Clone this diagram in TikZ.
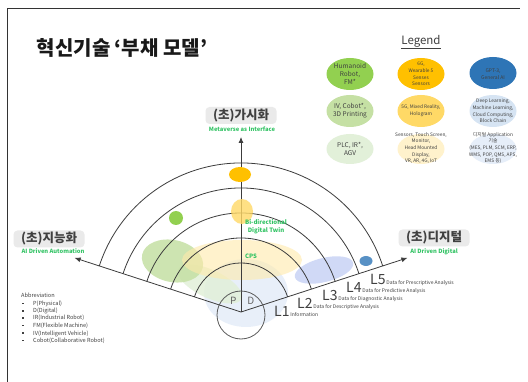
\documentclass[tikz,border=0pt]{standalone}
\usepackage{fontspec}
\setmainfont{Noto Sans CJK KR}
\usetikzlibrary{arrows.meta}
\definecolor{gA}{RGB}{146,208,80}
\definecolor{gB}{RGB}{197,224,164}
\definecolor{gC}{RGB}{226,240,217}
\definecolor{oA}{RGB}{255,192,0}
\definecolor{oB}{RGB}{255,217,102}
\definecolor{oC}{RGB}{255,242,204}
\definecolor{bA}{RGB}{46,117,182}
\definecolor{bB}{RGB}{214,228,243}
\definecolor{bC}{RGB}{230,238,249}
\definecolor{txt}{RGB}{64,64,64}
\definecolor{lnc}{RGB}{60,60,60}
\definecolor{grn}{RGB}{50,195,100}
\definecolor{boxg}{RGB}{234,234,234}
\newcommand{\fsz}[2]{\fontsize{#1}{#2}\selectfont}
\begin{document}
\begin{tikzpicture}[x=1pt,y=-1pt,
  axis/.style={draw=lnc, line width=0.8pt, -{Latex[length=6pt,width=5pt]}},
  ring/.style={draw=lnc, line width=0.8pt},
  lbl/.style={fill=boxg, rounded corners=4pt, minimum width=71pt, minimum height=17pt, inner sep=0pt, text=txt, font=\fsz{12.5}{14}\bfseries},
  sub/.style={text=grn, inner sep=0pt, font=\fsz{5.8}{7}\bfseries},
  leg/.style={align=center, inner sep=0pt, text=txt},
  lev/.style={anchor=base west, inner sep=0pt, text=txt},
  abb/.style={anchor=base west, inner sep=0pt, text=txt, font=\fsz{5.6}{7}},
]
\useasboundingbox (0,0) rectangle (528,382);
\fill[white] (0,0) rectangle (528,382);
\draw[line width=0.7pt, draw=black!80] (7,392) -- (7,8) -- (520,8);

% title
\node[inner sep=0pt, font=\fsz{20}{22}\bfseries, text=black!90] (title) at (122,48) {혁신기술 ‘부채 모델’};

% legend
\node[inner sep=0pt, font=\fsz{11.5}{13}, text=txt] (legend) at (421,42) {\underline{Legend}};
\fill[gA] (350,74) ellipse [x radius=23.5, y radius=16];
\fill[oA] (421,74) ellipse [x radius=23.5, y radius=16];
\fill[bA] (493,73) ellipse [x radius=23.5, y radius=16];
\fill[gB] (350,111) ellipse [x radius=23.5, y radius=16];
\fill[oB] (421,111) ellipse [x radius=23.5, y radius=16];
\fill[bB] (493,111) ellipse [x radius=23.5, y radius=16];
\fill[gC] (350,149) ellipse [x radius=23.5, y radius=15];
\fill[oC] (421,149) ellipse [x radius=23.5, y radius=15];
\fill[bC] (493,149) ellipse [x radius=23.5, y radius=15];
\node[leg, font=\fsz{6.5}{8.3}] (lg1) at (350,74) {Humanoid\\Robot,\\FM*};
\node[leg, font=\fsz{4.8}{6.8}] (lg2) at (421,74) {6G,\\Wearable 5\\Senses\\Sensors};
\node[leg, font=\fsz{5}{7}] (lg3) at (493,74) {GPT-3,\\General AI};
\node[leg, font=\fsz{6.5}{8.3}] (lg4) at (350,111) {IV, Cobot*,\\3D Printing};
\node[leg, font=\fsz{4.8}{7.2}] (lg5) at (421,111) {5G, Mixed Reality,\\Hologram};
\node[leg, font=\fsz{4.8}{6.7}] (lg6) at (493,111) {Deep Learning,\\Machine Learning,\\Cloud Computing,\\Block Chain};
\node[leg, font=\fsz{6.5}{8.3}] (lg7) at (350,149) {PLC, IR*,\\AGV};
\node[leg, font=\fsz{4.8}{6.7}] (lg8) at (421,148) {Sensors, Touch Screen,\\Monitor,\\Head Mounted\\Display,\\VR, AR, 4G, IoT};
\node[leg, font=\fsz{4.8}{6.7}] (lg9) at (493,148) {디지털 Application\\기술\\(MES, PLM, SCM, ERP,\\WMS, POP, QMS, APS,\\EMS 등)};

% fan translucent regions
\fill[bC, opacity=0.9] (246,293) ellipse [x radius=42, y radius=34];
\fill[gC, opacity=0.85, rotate around={-25:(210,284)}] (210,284) ellipse [x radius=35, y radius=14];
\fill[gB, opacity=0.85, rotate around={-12:(172.5,261)}] (172.5,261) ellipse [x radius=31, y radius=21];
\fill[oB!55!white, opacity=0.6] (242,260) ellipse [x radius=60, y radius=20];
\fill[bB!90!blue, opacity=0.75, rotate around={14:(324,270)}] (324,270) ellipse [x radius=30, y radius=12];

% axes and rings
\coordinate (O) at (241,312);
\coordinate (AL) at (74.6,257.9);
\coordinate (AR) at (407.4,257.9);
\coordinate (AT) at (241,137);
\foreach \r in {49,74,99,124,149} {
  \draw[ring] (O) ++(-18:\r) arc[start angle=-18, end angle=-162, radius=\r];
}
\draw[axis] (O) -- (AL);
\draw[axis] (O) -- (AR);
\draw[axis] (O) -- (AT);
\draw[ring, draw=lnc!85] (241,315) circle [radius=24];

% solid markers
\fill[oA] (240,174.5) ellipse [x radius=11, y radius=7.5];
\fill[oB, opacity=0.8] (242,211.5) ellipse [x radius=11, y radius=12.5];
\fill[gA] (176,218) circle [radius=7];
\fill[bA!80!white] (366,261) ellipse [x radius=6.5, y radius=5];

% labels
\node[lbl] (top) at (241,115.5) {(초)가시화};
\node[sub] (topsub) at (242,129) {Metaverse as Interface};
\node[lbl] (left) at (49,239) {(초)지능화};
\node[sub] (leftsub) at (53,251) {AI Driven Automation};
\node[lbl] (right) at (434,238) {(초)디지털};
\node[sub] (rightsub) at (434,252) {AI Driven Digital};

\node[sub, align=center, font=\fsz{6}{8.5}\bfseries] (twin) at (266,226.5) {Bi-directional\\Digital Twin};
\node[sub, font=\fsz{6}{7}\bfseries] (cps) at (251,256) {CPS};
\node[inner sep=0pt, text=txt!80, font=\fsz{10}{12}] (p) at (233.3,300.7) {P};
\node[inner sep=0pt, text=txt!80, font=\fsz{10}{12}] (d) at (250.7,300.7) {D};

\node[lev] (l1) at (274,317) {\fsz{14}{14}L1\fsz{5}{6}\,Information};
\node[lev] (l2) at (297,308.5) {\fsz{14}{14}L2\fsz{5}{6}\,Data for Descriptive Analysis};
\node[lev] (l3) at (322,300.5) {\fsz{14}{14}L3\fsz{5}{6}\,Data for Diagnostic Analysis};
\node[lev] (l4) at (346,292.5) {\fsz{14}{14}L4\fsz{5}{6}\,Data for Predictive Analysis};
\node[lev] (l5) at (370,284.5) {\fsz{14}{14}L5\fsz{5}{6}\,Data for Prescriptive Analysis};

% abbreviations
\node[abb] (ab0) at (21,297.5) {Abbreviation};
\foreach \y/\t [count=\i] in {305.5/P(Physical), 312.8/D(Digital), 320/IR(Industrial Robot), 327.4/FM(Flexible Machine), 335.2/IV(Intelligent Vehicle), 342.6/Cobot(Collaborative Robot)} {
  \fill[txt] (22,\y-2.7) rectangle (23.5,\y-1.2);
  \node[abb] (ab\i) at (33,\y) {\t};
}
\end{tikzpicture}
\end{document}
